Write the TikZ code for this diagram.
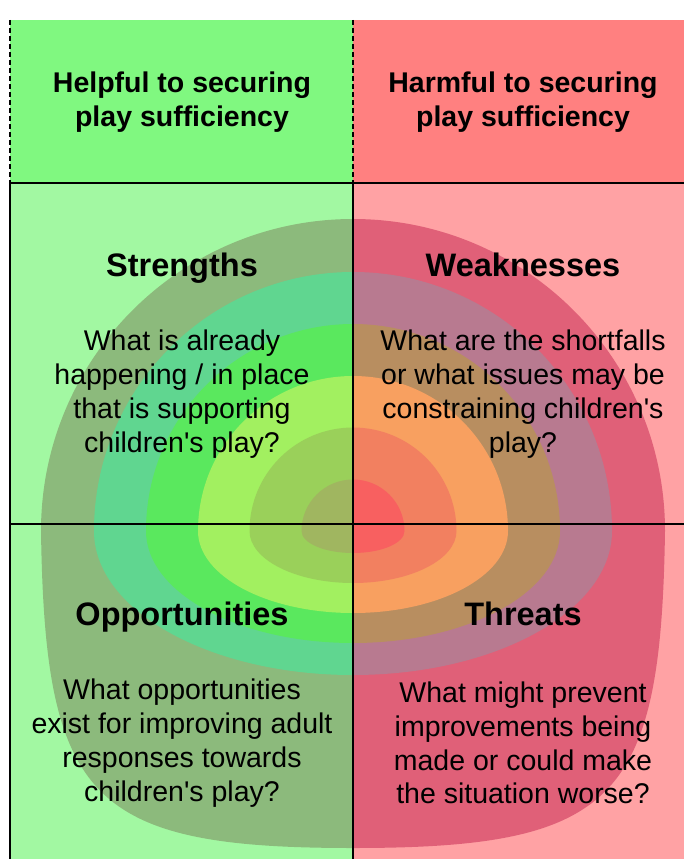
\documentclass[tikz,border=0pt]{standalone}
\usepackage{fontspec}
\setmainfont{Liberation Sans}
\definecolor{hdgreen}{RGB}{128,248,128}
\definecolor{hdred}{RGB}{255,128,128}
\definecolor{bggreen}{RGB}{162,248,162}
\definecolor{bgred}{RGB}{255,162,164}
% rings, outermost first: left (green) half and right (red) half
\definecolor{gA}{RGB}{140,186,124}
\definecolor{gB}{RGB}{96,214,144}
\definecolor{gC}{RGB}{90,232,94}
\definecolor{gD}{RGB}{162,240,96}
\definecolor{gE}{RGB}{154,208,90}
\definecolor{gF}{RGB}{160,182,96}
\definecolor{rA}{RGB}{224,96,120}
\definecolor{rB}{RGB}{184,122,144}
\definecolor{rC}{RGB}{184,142,96}
\definecolor{rD}{RGB}{248,160,96}
\definecolor{rE}{RGB}{242,128,96}
\definecolor{rF}{RGB}{248,96,96}
\newcommand{\apos}{\textquotesingle}
\begin{document}
\begin{tikzpicture}[x=1pt,y=-1pt,
  head/.style={font=\bfseries\fontsize{28.5}{34}\selectfont, align=center, inner sep=0pt},
  quadtitle/.style={font=\bfseries\fontsize{32.5}{38}\selectfont, inner sep=0pt, anchor=base},
  body/.style={font=\fontsize{28.5}{33.8}\selectfont, align=center, inner sep=0pt},
  divider/.style={line width=2.6pt, draw=black},
  dashdiv/.style={line width=2.4pt, draw=black, dash pattern=on 5pt off 3pt}]
\useasboundingbox (0,0) rectangle (684,859);
\fill[white] (0,0) rectangle (684,859);
% header band
\fill[hdgreen] (10,20) rectangle (353,183);
\fill[hdred] (353,20) rectangle (684,183);
% quadrant backgrounds
\fill[bggreen] (10,183) rectangle (353,859);
\fill[bgred] (353,183) rectangle (684,859);
% outer ring: semicircle on top, wide rounded bowl below
\begin{scope}
  \clip (10,183) rectangle (353,859);
  \fill[gA] (41,531) arc[start angle=180,end angle=360,radius=312]
    .. controls (661,800) and (616,848) .. (353,848)
    .. controls (90,848) and (45,800) .. (41,531) -- cycle;
\end{scope}
\begin{scope}
  \clip (353,183) rectangle (684,859);
  \fill[rA] (41,531) arc[start angle=180,end angle=360,radius=312]
    .. controls (661,800) and (616,848) .. (353,848)
    .. controls (90,848) and (45,800) .. (41,531) -- cycle;
\end{scope}
% inner rings: semicircle on top, flattened half-ellipse below
\foreach \r/\b/\cl/\cr in {259/144/gB/rB, 207/112/gC/rC,
                           155/82/gD/rD, 103.5/52/gE/rE, 51.5/22/gF/rF} {
  \begin{scope}
    \clip (10,183) rectangle (353,859);
    \fill[\cl] (353-\r,531) arc[start angle=180,end angle=360,radius=\r]
      arc[start angle=0,end angle=180,x radius=\r,y radius=\b] -- cycle;
  \end{scope}
  \begin{scope}
    \clip (353,183) rectangle (684,859);
    \fill[\cr] (353-\r,531) arc[start angle=180,end angle=360,radius=\r]
      arc[start angle=0,end angle=180,x radius=\r,y radius=\b] -- cycle;
  \end{scope}
}
% grid lines
\draw[dashdiv] (10,20) -- (10,183);
\draw[dashdiv] (353,20) -- (353,183);
\draw[divider] (10,183) -- (684,183);
\draw[divider] (10,183) -- (10,859);
\draw[divider] (353,183) -- (353,859);
\draw[divider] (10,524) -- (684,524);
% texts
\node[head] (hhelp) at (182,102) {Helpful to securing\\play sufficiency};
\node[head] (hharm) at (523,102) {Harmful to securing\\play sufficiency};
\node[quadtitle] (ts) at (182,276) {Strengths};
\node[quadtitle] (tw) at (523,276) {Weaknesses};
\node[quadtitle] (to) at (182,625) {Opportunities};
\node[quadtitle] (tt) at (523,625) {Threats};
\node[body] (bs) at (182,394) {What is already\\happening / in place\\that is supporting\\children\apos s play?};
\node[body] (bw) at (523,394) {What are the shortfalls\\or what issues may be\\constraining children\apos s\\play?};
\node[body] (bo) at (182,743) {What opportunities\\exist for improving adult\\responses towards\\children\apos s play?};
\node[body] (bt) at (523,743) {What might prevent\\improvements being\\made or could make\\the situation worse?};
\end{tikzpicture}
\end{document}
